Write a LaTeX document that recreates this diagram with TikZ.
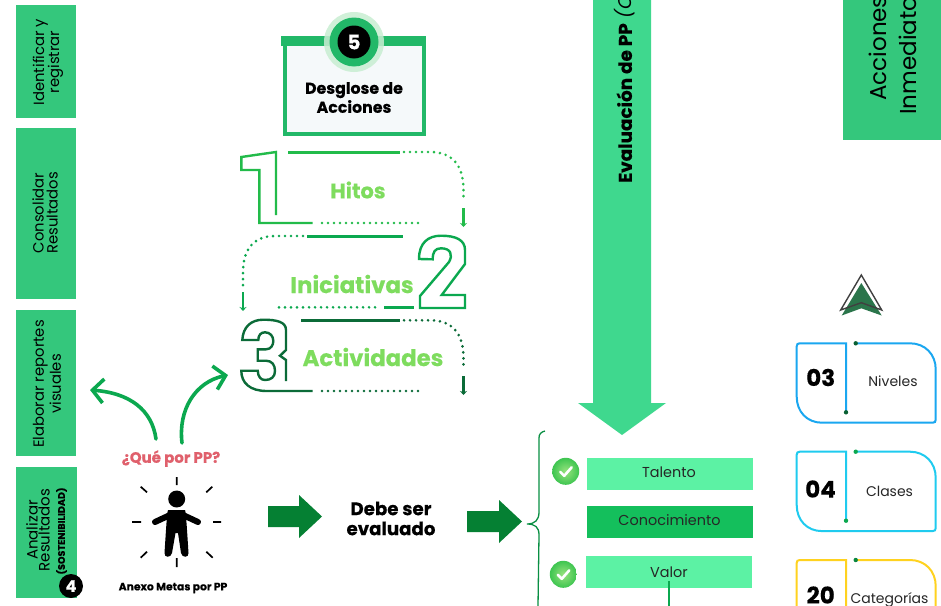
\documentclass[tikz,border=0pt]{standalone}
\usepackage{fontspec}
\setmainfont{Poppins}[BoldFeatures={FakeBold=0.35}]
\usetikzlibrary{arrows.meta,shadings}
\definecolor{sidegreen}{HTML}{34C77C}
\definecolor{bigarrow}{HTML}{3FD88E}
\definecolor{hdr}{HTML}{22B868}
\definecolor{numa}{HTML}{22BB4A}
\definecolor{numb}{HTML}{0BA84F}
\definecolor{numc}{HTML}{0B6B38}
\definecolor{lab}{HTML}{7EDC5E}
\definecolor{red1}{HTML}{E0606C}
\definecolor{dkarrow}{HTML}{058033}
\definecolor{mint}{HTML}{5CF2A4}
\definecolor{midg}{HTML}{14BF5C}
\definecolor{cardblue}{HTML}{1AA7F0}
\definecolor{cardcyan}{HTML}{1FCBEF}
\definecolor{cardyel}{HTML}{FFD21F}
\definecolor{paper}{HTML}{F5F9FA}
\tikzset{
  sidebox/.style={fill=sidegreen,draw=none,inner sep=0pt,anchor=north west},
  sidetext/.style={rotate=90,align=center,font=\fontsize{14.8}{15}\selectfont,inner sep=0pt,text=black},
  outlinenum/.style={line width=2.4pt,line join=miter},
  solidline/.style={line width=3pt},
  dotline/.style={line width=2.9pt,line cap=round,dash pattern=on 0pt off 6pt},
  tipline/.style={line width=2.6pt,-{Stealth[length=4pt,width=7pt]}},
  lablabel/.style={font=\bfseries,text=lab,inner sep=0pt},
  greenarrow/.style={draw=numb,line width=3.6pt,line cap=round,-{Straight Barb[length=11pt,width=24pt,line width=3.6pt]}},
  tick/.style={draw=black,line width=1.7pt},
  bar/.style={inner sep=0pt,minimum width=166pt,minimum height=32pt,anchor=north west},
  bartext/.style={font=\fontsize{14.4}{14.4}\selectfont,inner sep=0pt,text=black!85},
  okball/.style={circle,inner sep=0pt,minimum size=27pt,draw=none,shade,inner color=lab!80!white,outer color=numa!70!lab},
  cardnum/.style={font=\bfseries\fontsize{23}{23}\selectfont,inner sep=0pt},
  cardtext/.style={font=\fontsize{14}{14}\selectfont,inner sep=0pt,text=black!85},
  blockarrow/.style={fill=dkarrow,draw=none},
}
\newcommand{\cardbox}[4]{%
  \begin{scope}[shift={(0,#1)}]
    \coordinate (#4s) at (855.7,0);
    \coordinate (#4e) at (846,69);
    \draw[#2,line width=2pt] (#4s) -- (910,0) .. controls (925,0) and (935.7,11) .. (935.7,26)
      -- (935.7,76.4) .. controls (935.7,78.4) and (934.7,79.4) .. (932.7,79.4)
      -- (822,79.4) .. controls (807,79.4) and (796.7,68.4) .. (796.7,53.4)
      -- (796.7,3) .. controls (796.7,1) and (797.7,0) .. (799.7,0) -- (846,0) -- (#4e);
    \fill[#3] (#4s) circle (2.2pt);
    \fill[#3] (#4e) circle (2.2pt);
  \end{scope}}
\newcommand{\okmark}[2]{%
  \node[okball] (#2) at #1 {};
  \draw[white,line width=2.6pt,line cap=round,line join=round]
    ([shift={(-5.5,0.5)}]#2.center) -- ([shift={(-1.5,4.5)}]#2.center) -- ([shift={(6,-4)}]#2.center);}
\begin{document}
\begin{tikzpicture}[x=1pt,y=-1pt]
\useasboundingbox (0,0) rectangle (941,605);
\clip (0,0) rectangle (941,605);
\fill[white] (0,0) rectangle (941,605);

% left column
\node[sidebox,minimum width=60pt,minimum height=113pt] (b1) at (16,5) {};
\node[sidebox,minimum width=60pt,minimum height=171pt] (b2) at (16,128) {};
\node[sidebox,minimum width=60pt,minimum height=146pt] (b3) at (16,310) {};
\node[sidebox,minimum width=61pt,minimum height=131pt] (b4) at (16,467) {};
\node[sidetext] (t1) at (48,62) {Identificar y\\[-1pt]registrar};
\node[sidetext] (t2) at (45,213) {Consolidar\\[-1pt]Resultados};
\node[sidetext] (t3) at (47,384) {Elaborar reportes\\[1pt]visuales};
\node[sidetext,font=\fontsize{15}{12}\selectfont] (t4) at (38,530) {Analizar\\Resultados};
\node[sidetext,font=\bfseries\fontsize{9.6}{10}\selectfont] (t4b) at (61.5,531) {(SOSTENIBILIDAD)};
\node[circle,fill=black,inner sep=0pt,minimum size=24pt,text=white,font=\bfseries\fontsize{16}{16}\selectfont] (n4) at (71,586) {4};

% box 5
\node[fill=hdr,inner sep=0pt,minimum width=145pt,minimum height=10pt,anchor=north west] (hbar) at (281,36) {};
\node[draw=hdr,fill=paper,line width=4pt,outer sep=0pt,inner sep=0pt,minimum width=139pt,minimum height=90pt,anchor=north west] (dbox) at (285,44) {};
\node[align=center,inner sep=0pt,font=\bfseries\fontsize{15.8}{19}\selectfont] (dtxt) at (354,97.5) {Desglose de\\Acciones};
\node[circle,fill=numa!25!white,opacity=.85,inner sep=0pt,minimum size=60pt] (c5a) at (354,42) {};
\node[circle,fill=hdr,inner sep=0pt,minimum size=49pt] (c5b) at (354,42) {};
\node[circle,fill=black,inner sep=0pt,minimum size=33pt,text=white,font=\bfseries\fontsize{20}{20}\selectfont] (c5c) at (354,42) {5};

% Hitos
\draw[numa,outlinenum] (276,215) -- (276,152) -- (241.3,157) -- (241.3,170) -- (259.3,170) -- (259.3,223) -- (312.7,223);
\coordinate (h1a) at (288,152); \coordinate (h1b) at (400,152);
\draw[numa,solidline] (h1a) -- (h1b);
\draw[numa,dotline] (404,152) -- (430,152) .. controls (452,152) and (463.5,165) .. (463.5,190) -- (463.5,202);
\coordinate (h1c) at (463.5,208); \coordinate (h1d) at (463.5,227);
\draw[numa,tipline] (h1c) -- (h1d);
\draw[numa,dotline] (322,223) -- (420,223);
\node[lablabel,font=\bfseries\fontsize{21}{21}\selectfont] (hitos) at (358,190) {Hitos};

% Iniciativas
\draw[numb,outlinenum] (419,259) .. controls (419,243) and (428,235.7) .. (441,235.7)
  .. controls (456,235.7) and (465,240) .. (465,250) -- (465,264) -- (441.7,295) -- (465,295) -- (465,308) -- (420,308) -- (420,296)
  -- (449,262) .. controls (453,255) and (451,248.3) .. (441,248.3) .. controls (435,248.3) and (432.7,252) .. (432.7,259.3) -- cycle;
\coordinate (h2a) at (307,236); \coordinate (h2b) at (403,236);
\draw[numb,solidline] (h2a) -- (h2b);
\draw[numb,dotline] (303,236) -- (275,236) .. controls (254,236) and (243,249) .. (243,272) -- (243,286);
\coordinate (h2c) at (243,292); \coordinate (h2d) at (243,311);
\draw[numb,tipline] (h2c) -- (h2d);
\draw[numb,dotline] (375,307.3) -- (278,307.3);
\coordinate (h2e) at (384,307.3); \coordinate (h2f) at (414,307.3);
\draw[numb,solidline] (h2e) -- (h2f);
\node[lablabel,font=\bfseries\fontsize{22.8}{22.8}\selectfont] (inic) at (352,284) {Iniciativas};

% Actividades
\draw[numc,outlinenum] (312.7,391) -- (266.7,391) .. controls (250,391) and (241.3,383) .. (241.3,370.7) -- (257.7,370.7)
  .. controls (258,377) and (261,380) .. (265,380) .. controls (271,380) and (275,377) .. (275,371) .. controls (275,365) and (272,360.7) .. (266,360.7) -- (257.7,360.7) -- (257.7,349.3) -- (266,349.3)
  .. controls (271,349.3) and (273.3,345) .. (273.3,341) .. controls (273.3,336) and (270,332.3) .. (265,332.3) .. controls (261,332.3) and (258.3,335) .. (258.3,340) -- (242.3,340)
  .. controls (243,327) and (251,319.7) .. (263.3,319.7) .. controls (277,319.7) and (286,322) .. (286,330) -- (286,350) -- (280,355.7) -- (286,360) -- (286,381);
\coordinate (h3a) at (301,320.3); \coordinate (h3b) at (400,320.3);
\draw[numc,solidline] (h3a) -- (h3b);
\draw[numc,dotline] (404,320.3) -- (430,320.3) .. controls (452,320.3) and (463.5,333) .. (463.5,358) -- (463.5,370);
\coordinate (h3c) at (463.5,376); \coordinate (h3d) at (463.5,395);
\draw[numc,tipline] (h3c) -- (h3d);
\draw[numc,dotline] (322,391) -- (420,391);
\node[lablabel,font=\bfseries\fontsize{22.8}{22.8}\selectfont] (activ) at (373,357) {Actividades};

% question + arrows
\node[font=\bfseries\fontsize{15}{15}\selectfont,text=red1,inner sep=0pt] (q) at (171,458.5) {¿Qué por PP?};
\coordinate (qa) at (156,439); \coordinate (qat) at (90,390);
\coordinate (qb) at (182,443); \coordinate (qbt) at (228,375);
\draw[greenarrow] (qa) .. controls (152,410) and (130,393) .. (qat);
\draw[greenarrow] (qb) .. controls (178,410) and (195,382) .. (qbt);

% person
\fill[black] (176.7,499) circle (8.5pt);
\fill[black] (168,510) -- (185,510) .. controls (186,512) and (187,530) .. (188.5,553) .. controls (189,558) and (182,558) .. (181,553) -- (178,533) -- (175.5,533) -- (172,553) .. controls (171,558) and (164,558) .. (164.5,553) .. controls (166,530) and (167,512) .. (168,510) -- cycle;
\draw[black,line width=6pt,line cap=round] (155,522) -- (170,515);
\draw[black,line width=6pt,line cap=round] (198,522) -- (183,515);
\draw[tick] (176.7,477) -- (176.7,485) (176.7,558) -- (176.7,567)
  (132,522) -- (141,522) (213,522) -- (221,522)
  (140.7,486.7) -- (147,492.3) (212.3,486.7) -- (206.3,492.3)
  (140.7,557.7) -- (147,551.7) (212.7,557.7) -- (206.3,551.7);
\node[font=\bfseries\fontsize{10.8}{11}\selectfont,inner sep=0pt] (anexo) at (173,588) {Anexo Metas por PP};

% block arrows
\fill[blockarrow] (268,506) -- (299,506) -- (299,495) -- (322,516.5) -- (299,538) -- (299,527) -- (268,527) -- cycle;
\node[font=\bfseries\fontsize{18.2}{20}\selectfont,align=center,inner sep=0pt] (debe) at (391,518.5) {Debe ser\\evaluado};
\fill[blockarrow] (467,511) -- (499,511) -- (499,500) -- (522,521.5) -- (499,543) -- (499,532) -- (467,532) -- cycle;

% big arrow
\fill[bigarrow] (593,-5) -- (651,-5) -- (651,403) -- (666,403) -- (622,435) -- (578,403) -- (593,403) -- cycle;
\node[rotate=90,anchor=west,inner sep=0pt,font=\fontsize{18.4}{18}\selectfont] (evalu) at (625,183) {\textbf{Evaluación de PP} \textit{(C}};

% top right
\node[sidebox,minimum width=100pt,minimum height=145pt] (acc) at (843,-5) {};
\node[rotate=90,anchor=west,inner sep=0pt,font=\fontsize{23}{26}\selectfont] (acc1) at (878,101) {Acciones};
\node[rotate=90,anchor=west,inner sep=0pt,font=\fontsize{23}{26}\selectfont] (acc2) at (908,115) {Inmediato};

% brace
\coordinate (bra) at (545,431); \coordinate (brb) at (538,606);
\draw[draw=numb!85!black,line width=1.3pt] (bra) .. controls (541,432) and (539,434) .. (539,438) -- (539,512)
  .. controls (539,520) and (535,524) .. (527,524) .. controls (535,524) and (539,527) .. (539,535) -- (brb);

% bars
\node[bar,fill=mint] (talb) at (587,458) {};
\node[bar,fill=midg] (conb) at (587,506) {};
\node[bar,fill=mint] (valb) at (586,556) {};
\node[bartext] (talt) at (669,472) {Talento};
\node[bartext] (cont) at (669.5,520) {Conocimiento};
\node[bartext] (valt) at (669,572) {Valor};
\coordinate (vald) at (669,606);
\coordinate (valu) at (669,581);
\draw[numb,line width=1.6pt] (valu) -- (vald);
\okmark{(565.7,471.3)}{ok1}
\okmark{(563.3,574.3)}{ok2}

% nav icon
\fill[numb!55!black!85!white] (861.3,283) -- (881.7,315.5) -- (861.3,308.3) -- (841.7,315.5) -- cycle;
\draw[black!75,line width=1.4pt,line join=miter] (861.3,275) -- (881.7,310) -- (861.3,302.7) -- (840.7,310) -- cycle;

% cards
\cardbox{343.3}{cardblue}{numc!90!black}{ca}
\cardbox{451.7}{cardcyan}{numb}{cb}
\cardbox{560}{cardyel}{numb!80!black}{cc}
\node[cardnum] (n03) at (820.7,377.5) {03};
\node[cardtext] (l03) at (893,381) {Niveles};
\node[cardnum] (n04) at (820.5,489) {04};
\node[cardtext] (l04) at (889.5,491) {Clases};
\node[cardnum] (n20) at (820.7,595) {20};
\node[cardtext] (l20) at (889.5,600) {Categorías};
\end{tikzpicture}
\end{document}
